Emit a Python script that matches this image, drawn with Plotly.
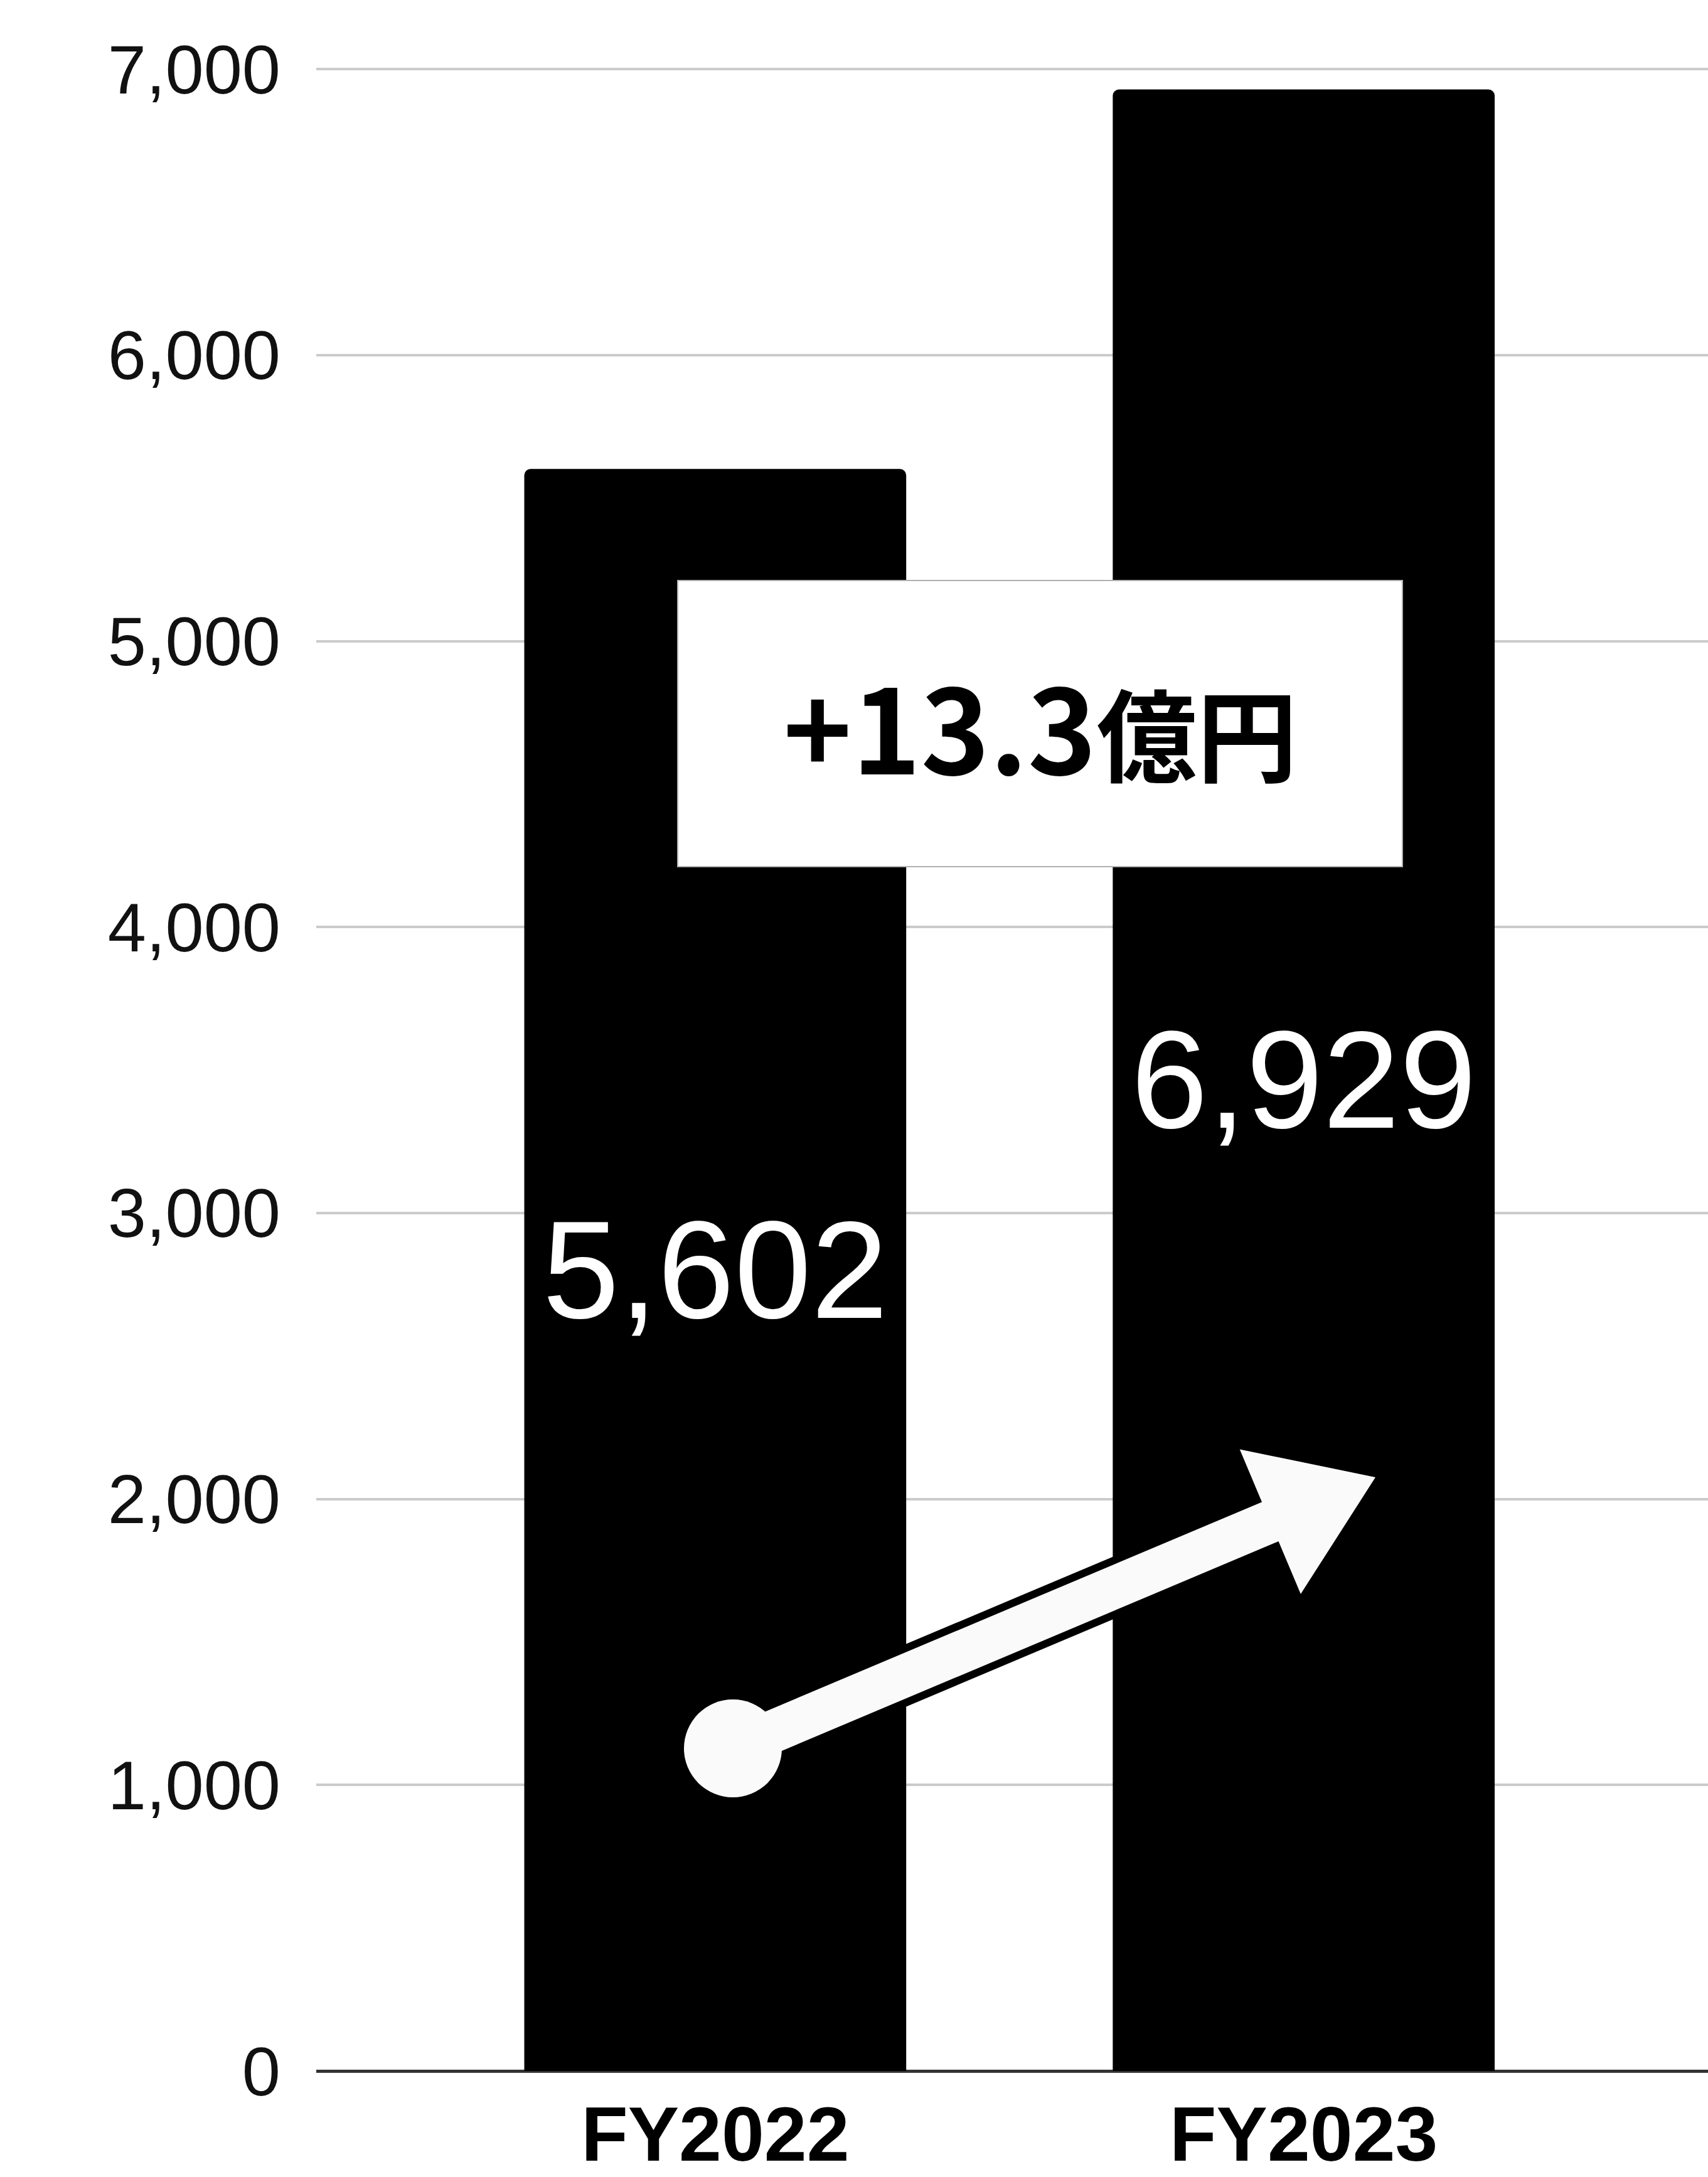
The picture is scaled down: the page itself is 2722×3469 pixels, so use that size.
import numpy as np
import plotly.graph_objects as go

# ---- data ----
categories = ["FY2022", "FY2023"]
values = [5602, 6929]
y_ticks = [0, 1000, 2000, 3000, 4000, 5000, 6000, 7000]
change_label = "+13.3"
change_unit = "億円"

# ---- geometry (pixels) ----
W, H = 2722, 3469
ML, MR, MT, MB = 504, 0, 92, 169
PW, PH = W - ML - MR, H - MT - MB
Y_TOP = 7040


def px(xp, yp):
    """pixel -> paper coords"""
    return (xp - ML) / PW, (H - MB - yp) / PH


fig = go.Figure()
fig.add_trace(go.Bar(
    x=categories, y=values,
    marker=dict(color="#000000", line=dict(width=0)),
    width=0.649,
    texttemplate="%{y:,}",
    textposition="inside",
    insidetextanchor="middle",
    textfont=dict(family="Liberation Sans, Arial", size=220, color="#ffffff"),
    hoverinfo="skip",
))

shapes = []
# white label box
bx0, by0 = px(1080, 1381)
bx1, by1 = px(2235, 925)
shapes.append(dict(type="rect", xref="paper", yref="paper", x0=bx0, y0=by0, x1=bx1, y1=by1,
                   fillcolor="#ffffff", line=dict(color="#b0b0b0", width=2), layer="above"))

# arrow polygon
S = np.array([1168.0, 2786.0])
T = np.array([2192.0, 2354.0])
u = (T - S) / np.linalg.norm(T - S)
n = np.array([-u[1], u[0]])
head_len, head_hw, shaft_hw = 182.0, 125.0, 34.0
B = T - head_len * u
pts = [S + shaft_hw * n, B + shaft_hw * n, B + head_hw * n, T,
       B - head_hw * n, B - shaft_hw * n, S - shaft_hw * n]
path = "M " + " L ".join("{:.5f},{:.5f}".format(*px(p[0], p[1])) for p in pts) + " Z"
r = 78
cx0, cy0 = px(S[0] - r, S[1] + r)
cx1, cy1 = px(S[0] + r, S[1] - r)

# outlines
shapes.append(dict(type="path", xref="paper", yref="paper", path=path,
                   fillcolor="#ffffff", line=dict(color="#000000", width=24), layer="above"))
shapes.append(dict(type="circle", xref="paper", yref="paper", x0=cx0, y0=cy0, x1=cx1, y1=cy1,
                   fillcolor="#ffffff", line=dict(color="#000000", width=24), layer="above"))
# fills
shapes.append(dict(type="path", xref="paper", yref="paper", path=path,
                   fillcolor="#fafafa", line=dict(width=0), layer="above"))
shapes.append(dict(type="circle", xref="paper", yref="paper", x0=cx0, y0=cy0, x1=cx1, y1=cy1,
                   fillcolor="#fafafa", line=dict(width=0), layer="above"))

tx, ty = px(1657, 1153)
annotations = [dict(
    xref="paper", yref="paper", x=tx, y=ty, xanchor="center", yanchor="middle",
    showarrow=False,
    text="<b>" + change_label + "<span style='font-size:160px'>" + change_unit + "</span></b>",
    font=dict(family="Noto Sans CJK JP", size=186, color="#000000"),
)]

fig.update_layout(
    width=W, height=H,
    margin=dict(l=ML, r=MR, t=MT, b=MB, pad=0, autoexpand=False),
    paper_bgcolor="#ffffff", plot_bgcolor="#ffffff",
    showlegend=False,
    barcornerradius=10,
    shapes=shapes,
    annotations=annotations,
    xaxis=dict(
        type="category",
        range=[-0.678, 1.687],
        automargin=False,
        showgrid=False, zeroline=False, showline=False,
        ticks="",
        tickfont=dict(family="Liberation Sans, Arial", size=122, color="#000000", weight="bold"),
        ticklabelstandoff=20,
    ),
    yaxis=dict(
        range=[0, Y_TOP],
        automargin=False,
        tickvals=y_ticks,
        tickformat=",",
        showgrid=True, gridcolor="#cbcbcb", gridwidth=4,
        zeroline=True, zerolinecolor="#333333", zerolinewidth=5,
        showline=False, ticks="",
        tickfont=dict(family="Liberation Sans, Arial", size=110, color="#111111"),
        ticklabelstandoff=56,
    ),
)

fig.write_html(
    "out.html",
    config={"displayModeBar": False},
    post_script="document.body.style.margin='0px';"
                "document.body.style.overflow='hidden';"
                "document.documentElement.style.overflow='hidden';",
)
